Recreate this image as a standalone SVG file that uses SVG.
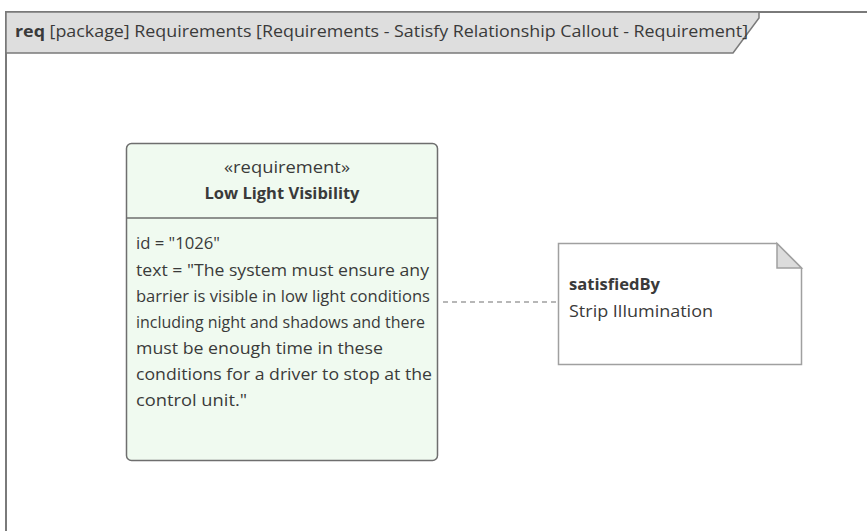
<svg xmlns="http://www.w3.org/2000/svg" width="867" height="531" viewBox="0 0 867 531">
<style>
text{font-family:"Open Sans","Liberation Sans",sans-serif;fill:#3a3a3a}
.t{font-size:16px}
.b{font-weight:bold}
.frame{fill:none;stroke:#7a7a7a;stroke-width:2}
</style>
<rect width="867" height="531" fill="#fff"/>
<g id="frame">
<path d="M6,531 V12 H867" class="frame"/>
<path d="M6,12 H759 V18 L733,53 H6 Z" fill="#dedede" stroke="#7a7a7a" stroke-width="1.5"/>
<text x="15" y="37" class="t" textLength="733" lengthAdjust="spacingAndGlyphs"><tspan class="b">req</tspan> [package] Requirements [Requirements - Satisfy Relationship Callout - Requirement]</text>
</g>
<g id="connectors">
<line x1="443" y1="302" x2="558" y2="302" stroke="#a0a0a0" stroke-width="1.5" stroke-dasharray="5,4"/>
</g>
<g id="requirement">
<rect x="126.5" y="143.5" width="311" height="317" rx="5" fill="#f0faf0" stroke="#6e6e6e" stroke-width="1.5"/>
<line x1="126.5" y1="218" x2="437.5" y2="218" stroke="#6e6e6e" stroke-width="1.5"/>
<text x="287" y="173" class="t" text-anchor="middle" textLength="126" lengthAdjust="spacingAndGlyphs" fill="#444">«requirement»</text>
<text x="282" y="199" class="t b" text-anchor="middle" textLength="155" lengthAdjust="spacingAndGlyphs">Low Light Visibility</text>
<text x="136" y="249" class="t" textLength="84" lengthAdjust="spacingAndGlyphs">id = "1026"</text>
<text x="136" y="276" class="t" textLength="293" lengthAdjust="spacingAndGlyphs">text = "The system must ensure any</text>
<text x="136" y="302" class="t" textLength="294" lengthAdjust="spacingAndGlyphs">barrier is visible in low light conditions</text>
<text x="136" y="328" class="t" textLength="289" lengthAdjust="spacingAndGlyphs">including night and shadows and there</text>
<text x="136" y="354" class="t" textLength="247" lengthAdjust="spacingAndGlyphs">must be enough time in these</text>
<text x="136" y="380" class="t" textLength="296" lengthAdjust="spacingAndGlyphs">conditions for a driver to stop at the</text>
<text x="136" y="406" class="t" textLength="111" lengthAdjust="spacingAndGlyphs">control unit."</text>
</g>
<g id="note">
<path d="M558.5,243.5 H777 L801.5,268 V364.5 H558.5 Z" fill="#fff" stroke="#a0a0a0" stroke-width="1.5"/>
<path d="M777,243.5 V268 H801.5 Z" fill="#dcdcdc" stroke="#a0a0a0" stroke-width="1.5"/>
<text x="569" y="290" class="t b" textLength="91" lengthAdjust="spacingAndGlyphs" fill="#444">satisfiedBy</text>
<text x="569" y="317" class="t" textLength="144" lengthAdjust="spacingAndGlyphs" fill="#4a5060">Strip Illumination</text>
</g>
</svg>
